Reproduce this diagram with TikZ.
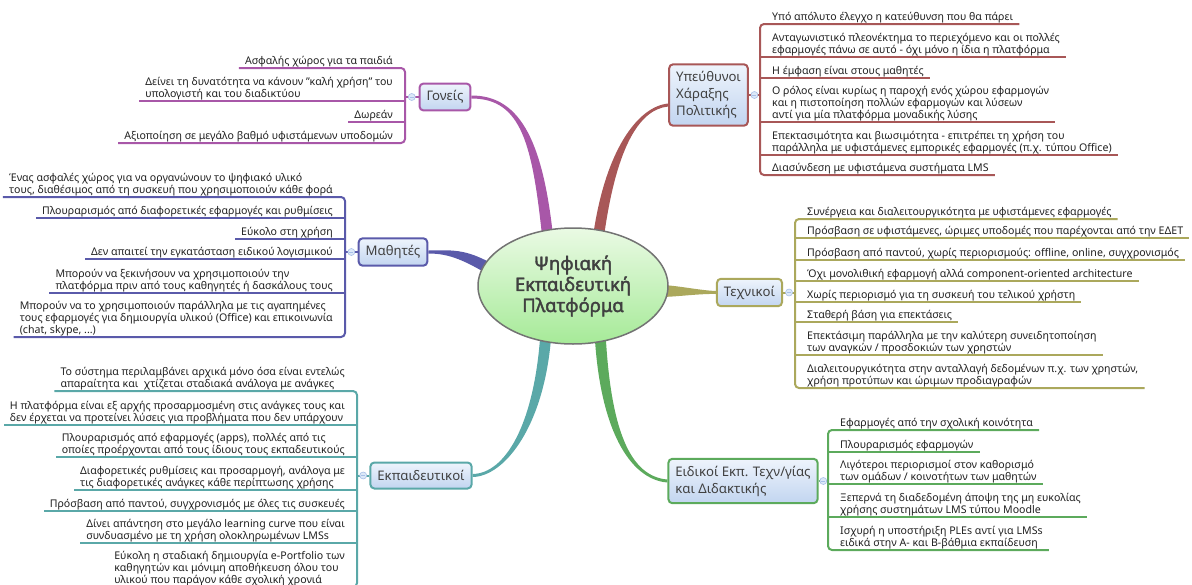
\documentclass[tikz,border=0pt]{standalone}
\usepackage{fontspec}
\setmainfont{Noto Sans}[AutoFakeBold=2]
\usetikzlibrary{calc,backgrounds,shapes.geometric}

\definecolor{gonc}{HTML}{A857A8}
\definecolor{ypc}{HTML}{A85757}
\definecolor{mac}{HTML}{5A5AAA}
\definecolor{tec}{HTML}{ABA85C}
\definecolor{ekc}{HTML}{5AA8A8}
\definecolor{eic}{HTML}{5CAA5C}
\definecolor{boxtop}{HTML}{EEF4FC}
\definecolor{boxbot}{HTML}{C2D5F0}
\definecolor{centtop}{HTML}{EAFAE4}
\definecolor{centbot}{HTML}{A6EA98}
\definecolor{knobfill}{HTML}{DCE8F8}
\definecolor{knobline}{HTML}{A8C0E8}

% tapered branch: colour, start, c1, c2, end, half width at start, half width at end
\newcommand{\twig}[7]{\fill[#1] ($(#2)+#6$) .. controls ($(#3)+#6$) and ($(#4)+#7$) .. ($(#5)+#7$) -- ($(#5)-#7$) .. controls ($(#4)-#7$) and ($(#3)-#6$) .. ($(#2)-#6$) -- cycle;}

\begin{document}
\begin{tikzpicture}[x=1pt, y=-1pt,
    leaf/.style={inner xsep=6pt, inner ysep=0.3pt, align=left, text=black!88,
      font=\fontsize{10.6}{11.6}\selectfont, execute at end node=\strut},
    rleaf/.style={leaf, anchor=south west},
    lleaf/.style={leaf, anchor=south east},
    topic/.style={draw=#1, line width=2pt, rounded corners=4pt, top color=boxtop, bottom color=boxbot,
      align=left, text=black!75, font=\fontsize{13.2}{17}\selectfont, inner xsep=7pt, inner ysep=7pt, minimum height=26pt},
    twigline/.style={draw=#1, line width=2pt},
    knob/.style={circle, draw=knobline, fill=knobfill, line width=0.6pt, minimum size=7pt, inner sep=0pt,
      path picture={\draw[knobline, line width=0.6pt] ([xshift=-2pt]path picture bounding box.center) -- ([xshift=2pt]path picture bounding box.center);}}
  ]
  \useasboundingbox (0,0) rectangle (1192,584);
  \clip (0,0) rectangle (1192,584);

  % centre
  \node[ellipse, draw=black!55, line width=1.5pt, top color=centtop, bottom color=centbot,
    minimum width=190pt, minimum height=116pt, inner sep=0pt, align=center, text=black!75,
    font=\bfseries\fontsize{18.5}{21}\selectfont] (plat) at (573,286) {Ψηφιακή\\Εκπαιδευτική\\Πλατφόρμα};

  % main topics
  \node[topic=gonc] (gon) at (445,97) {Γονείς};
  \node[topic=ypc] (ypeuth) at (708.5,95) {Υπεύθυνοι\\Χάραξης\\Πολιτικής};
  \node[topic=mac] (mathit) at (393,252) {Μαθητές};
  \node[topic=tec] (texn) at (749.5,292.5) {Τεχνικοί};
  \node[topic=ekc] (ekp) at (421,475.5) {Εκπαιδευτικοί};
  \node[topic=eic] (eid) at (743,481) {Ειδικοί Εκπ. Τεχν/γίας\\και Διδακτικής};

  \coordinate (gonroot) at (548,240);
  \coordinate (yproot) at (598,240);
  \coordinate (maroot) at (495,272);
  \coordinate (teroot) at (660,291);
  \coordinate (ekroot) at (546,332);
  \coordinate (eiroot) at (600,332);
  \coordinate (ypin) at ($(ypeuth.west)+(0,10)$);

  \begin{scope}[on background layer]
    \twig{gonc}{gonroot}{538,145}{522,97}{gon.east}{(5.5,0)}{(0,-1.5)}
    \twig{ypc}{yproot}{610,150}{638,108}{ypin}{(5.5,0)}{(0,1.5)}
    \twig{mac}{maroot}{465,254}{450,252}{mathit.east}{(0,-6.5)}{(0,-1.5)}
    \twig{tec}{teroot}{675,291}{700,292}{texn.west}{(0,6)}{(0,1.5)}
    \twig{ekc}{ekroot}{540,425}{505,475}{ekp.east}{(-5.5,0)}{(0,-1.5)}
    \twig{eic}{eiroot}{605,430}{630,478}{eid.west}{(-5.5,0)}{(0,1.5)}
  \end{scope}

  % Υπεύθυνοι Χάραξης Πολιτικής
  \coordinate (ypbar) at (760,0);
  \node[rleaf] (y1) at (766,24) {Υπό απόλυτο έλεγχο η κατεύθυνση που θα πάρει};
  \node[rleaf] (y2) at (766,57) {Ανταγωνιστικό πλεονέκτημα το περιεχόμενο και οι πολλές\\εφαρμογές πάνω σε αυτό - όχι μόνο η ίδια η πλατφόρμα};
  \node[rleaf] (y3) at (766,78) {Η έμφαση είναι στους μαθητές};
  \node[rleaf] (y4) at (766,122) {Ο ρόλος είναι κυρίως η παροχή ενός χώρου εφαρμογών\\και η πιστοποίηση πολλών εφαρμογών και λύσεων\\αντί για μία πλατφόρμα μοναδικής λύσης};
  \node[rleaf] (y5) at (766,155) {Επεκτασιμότητα και βιωσιμότητα - επιτρέπει τη χρήση του\\παράλληλα με υφιστάμενες εμπορικές εφαρμογές (π.χ. τύπου Office)};
  \node[rleaf] (y6) at (766,175) {Διασύνδεση με υφιστάμενα συστήματα LMS};
  \draw[twigline=ypc, rounded corners=4pt] (y1.south east) -- (ypbar |- y1.south) -- (ypbar |- y6.south) -- (y6.south east);
  \foreach \i in {2,...,5} \draw[twigline=ypc] (ypbar |- y\i.south) -- (y\i.south east);
  \draw[twigline=ypc] (ypeuth.east) -- (ypeuth.east -| ypbar);
  \node[knob] (ypknob) at ($(ypeuth.east)!0.5!(ypeuth.east -| ypbar)$) {};

  % Τεχνικοί
  \coordinate (tebar) at (795,0);
  \node[rleaf] (t1) at (801,219) {Συνέργεια και διαλειτουργικότητα με υφιστάμενες εφαρμογές};
  \node[rleaf] (t2) at (801,238) {Πρόσβαση σε υφιστάμενες, ώριμες υποδομές που παρέχονται από την ΕΔΕΤ};
  \node[rleaf] (t3) at (801,260) {Πρόσβαση από παντού, χωρίς περιορισμούς: offline, online, συγχρονισμός};
  \node[rleaf] (t4) at (801,281) {Όχι μονολιθική εφαρμογή αλλά component-oriented architecture};
  \node[rleaf] (t5) at (801,302) {Χωρίς περιορισμό για τη συσκευή του τελικού χρήστη};
  \node[rleaf] (t6) at (801,322) {Σταθερή βάση για επεκτάσεις};
  \node[rleaf] (t7) at (801,355) {Επεκτάσιμη παράλληλα με την καλύτερη συνειδητοποίηση\\των αναγκών / προσδοκιών των χρηστών};
  \node[rleaf] (t8) at (801,388) {Διαλειτουργικότητα στην ανταλλαγή δεδομένων π.χ. των χρηστών,\\χρήση προτύπων και ώριμων προδιαγραφών};
  \draw[twigline=tec, rounded corners=4pt] (t1.south east) -- (tebar |- t1.south) -- (tebar |- t8.south) -- (t8.south east);
  \foreach \i in {2,...,7} \draw[twigline=tec] (tebar |- t\i.south) -- (t\i.south east);
  \draw[twigline=tec] (texn.east) -- (texn.east -| tebar);
  \node[knob] (teknob) at ($(texn.east)!0.5!(texn.east -| tebar)$) {};

  % Ειδικοί Εκπ. Τεχνολογίας
  \coordinate (eibar) at (828,0);
  \node[rleaf] (e1) at (834,430) {Εφαρμογές από την σχολική κοινότητα};
  \node[rleaf] (e2) at (834,452) {Πλουραρισμός εφαρμογών};
  \node[rleaf] (e3) at (834,484) {Λιγότεροι περιορισμοί στον καθορισμό\\των ομάδων / κοινοτήτων των μαθητών};
  \node[rleaf] (e4) at (834,517) {Ξεπερνά τη διαδεδομένη άποψη της μη ευκολίας\\χρήσης συστημάτων LMS τύπου Moodle};
  \node[rleaf] (e5) at (834,550) {Ισχυρή η υποστήριξη PLEs αντί για LMSs\\ειδικά στην Α- και Β-βάθμια εκπαίδευση};
  \draw[twigline=eic, rounded corners=4pt] (e1.south east) -- (eibar |- e1.south) -- (eibar |- e5.south) -- (e5.south east);
  \foreach \i in {2,...,4} \draw[twigline=eic] (eibar |- e\i.south) -- (e\i.south east);
  \draw[twigline=eic] (eid.east) -- (eid.east -| eibar);
  \node[knob] (eiknob) at ($(eid.east)!0.5!(eid.east -| eibar)$) {};

  % Γονείς
  \coordinate (gonbar) at (405,0);
  \node[lleaf] (g1) at (399,68) {Ασφαλής χώρος για τα παιδιά};
  \node[lleaf] (g2) at (399,101) {Δείνει τη δυνατότητα να κάνουν "καλή χρήση" του\\υπολογιστή και του διαδικτύου};
  \node[lleaf] (g3) at (399,122) {Δωρεάν};
  \node[lleaf] (g4) at (399,143) {Αξιοποίηση σε μεγάλο βαθμό υφιστάμενων υποδομών};
  \draw[twigline=gonc, rounded corners=4pt] (g1.south west) -- (gonbar |- g1.south) -- (gonbar |- g4.south) -- (g4.south west);
  \foreach \i in {2,3} \draw[twigline=gonc] (gonbar |- g\i.south) -- (g\i.south west);
  \draw[twigline=gonc] (gon.west) -- (gon.west -| gonbar);
  \node[knob] (gonknob) at ($(gon.west)!0.5!(gon.west -| gonbar)$) {};

  % Μαθητές
  \coordinate (mabar) at (345,0);
  \node[lleaf] (m1) at (339,197) {Ένας ασφαλές χώρος για να οργανώνουν το ψηφιακό υλικό\\τους, διαθέσιμος από τη συσκευή που χρησιμοποιούν κάθε φορά};
  \node[lleaf] (m2) at (339,218) {Πλουραρισμός από διαφορετικές εφαρμογές και ρυθμίσεις};
  \node[lleaf] (m3) at (339,239) {Εύκολο στη χρήση};
  \node[lleaf] (m4) at (339,259) {Δεν απαιτεί την εγκατάσταση ειδικού λογισμικού};
  \node[lleaf] (m5) at (339,293) {Μπορούν να ξεκινήσουν να χρησιμοποιούν την\\πλατφόρμα πριν από τους καθηγητές ή δασκάλους τους};
  \node[lleaf] (m6) at (339,337) {Μπορούν να το χρησιμοποιούν παράλληλα με τις αγαπημένες\\τους εφαρμογές για δημιουργία υλικού (Office) και επικοινωνία\\(chat, skype, ...)};
  \draw[twigline=mac, rounded corners=4pt] (m1.south west) -- (mabar |- m1.south) -- (mabar |- m6.south) -- (m6.south west);
  \foreach \i in {2,...,5} \draw[twigline=mac] (mabar |- m\i.south) -- (m\i.south west);
  \draw[twigline=mac] (mathit.west) -- (mathit.west -| mabar);
  \node[knob] (maknob) at ($(mathit.west)!0.5!(mathit.west -| mabar)$) {};

  % Εκπαιδευτικοί
  \coordinate (ekbar) at (357,0);
  \node[lleaf] (k1) at (351,391) {Το σύστημα περιλαμβάνει αρχικά μόνο όσα είναι εντελώς\\απαραίτητα και \ χτίζεται σταδιακά ανάλογα με ανάγκες};
  \node[lleaf] (k2) at (351,425) {Η πλατφόρμα είναι εξ αρχής προσαρμοσμένη στις ανάγκες τους και\\δεν έρχεται να προτείνει λύσεις για προβλήματα που δεν υπάρχουν};
  \node[lleaf] (k3) at (351,457) {Πλουραρισμός από εφαρμογές (apps), πολλές από τις\\οποίες προέρχονται από τους ίδιους τους εκπαδευτικούς};
  \node[lleaf] (k4) at (351,490) {Διαφορετικές ρυθμίσεις και προσαρμογή, ανάλογα με\\τις διαφορετικές ανάγκες κάθε περίπτωσης χρήσης};
  \node[lleaf] (k5) at (351,511) {Πρόσβαση από παντού, συγχρονισμός με όλες τις συσκευές};
  \node[lleaf] (k6) at (351,543) {Δίνει απάντηση στο μεγάλο learning curve που είναι\\συνδυασμένο με τη χρήση ολοκληρωμένων LMSs};
  \node[lleaf] (k7) at (351,587) {Εύκολη η σταδιακή δημιουργία e-Portfolio των\\καθηγητών και μόνιμη αποθήκευση όλου του\\υλικού που παράγον κάθε σχολική χρονιά};
  \draw[twigline=ekc, rounded corners=4pt] (k1.south west) -- (ekbar |- k1.south) -- (ekbar |- k7.south) -- (k7.south west);
  \foreach \i in {2,...,6} \draw[twigline=ekc] (ekbar |- k\i.south) -- (k\i.south west);
  \draw[twigline=ekc] (ekp.west) -- (ekp.west -| ekbar);
  \node[knob] (ekknob) at ($(ekp.west)!0.5!(ekp.west -| ekbar)$) {};
\end{tikzpicture}
\end{document}
